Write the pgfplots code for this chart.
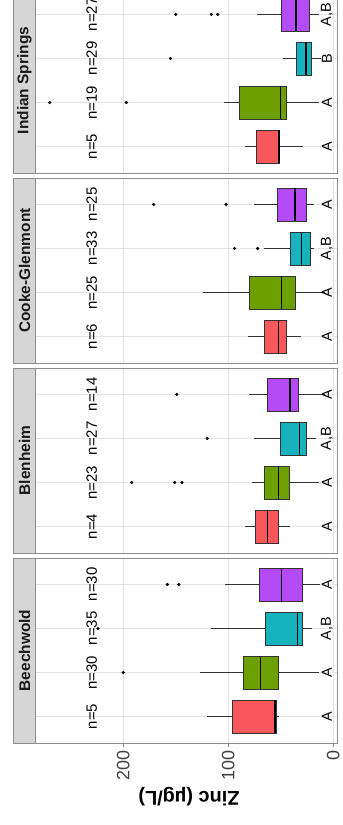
\documentclass[border=0pt]{standalone}
\usepackage{fontspec}
\setmainfont{Liberation Sans}
\usepackage{pgfplots}
\pgfplotsset{compat=1.18}
\usepgfplotslibrary{statistics}
\definecolor{cred}{HTML}{F8575B}
\definecolor{cgreen}{HTML}{6BA000}
\definecolor{ccyan}{HTML}{16B3BE}
\definecolor{cpurple}{HTML}{B54BF4}
\definecolor{gridgray}{HTML}{E4E4E4}
\definecolor{bordergray}{HTML}{8C8C8C}
\definecolor{stripgray}{HTML}{D6D6D6}
\definecolor{boxline}{HTML}{333333}
\newcommand{\bx}[7]{\addplot[fill=#1, draw=boxline, line width=0.7bp, boxplot prepared={draw position=#2, lower whisker=#3, lower quartile=#4, median=#5, upper quartile=#6, upper whisker=#7}] coordinates {};}
\newcommand{\lab}[3]{\node[rotate=90, font=\fontsize{15}{15}\selectfont] at (axis cs:230,#1) {#2};\node[rotate=90, font=\fontsize{14.5}{14.5}\selectfont] at (axis cs:6,#1) {#3};}
\pgfplotsset{
  panel/.style={
    scale only axis, width=302.4bp, height=185bp, anchor=south west,
    xmin=-4, xmax=284, ymin=0.4, ymax=4.6, x dir=reverse,
    xtick={0,100,200}, ytick={1,2,3,4}, yticklabels={}, xticklabels={},
    xmajorgrids, ymajorgrids, grid style={color=gridgray, line width=0.6bp},
    axis line style={draw=bordergray, line width=0.8bp},
    xtick style={draw=none}, ytick style={draw=none},
    clip=false,
    boxplot/draw direction=x,
    boxplot/box extend=0.75,
    boxplot/whisker extend=0,
    boxplot/every median/.style={line width=1.4bp, draw=black},
  },
  outl/.style={only marks, mark=*, mark size=1.4bp, black},
}
\begin{document}
\begin{tikzpicture}
\useasboundingbox (0bp,0bp) rectangle (343bp,825bp);
\clip (0bp,0bp) rectangle (343bp,825bp);
% Beechwold
\begin{axis}[panel, at={(35bp,82bp)},
  xticklabels={0,100,200}, xtick style={draw=bordergray, line width=0.8bp},
  xtick align=outside, major tick length=4bp, xtick pos=left,
  xticklabel style={rotate=90, anchor=east, font=\fontsize{18}{18}\selectfont, text=black!75}]
\bx{cred}{1}{52}{54}{55.5}{96}{120}
\bx{cgreen}{2}{14}{52}{69}{86}{127}
\bx{ccyan}{3}{20}{29}{34}{65}{116}
\bx{cpurple}{4}{13}{29}{49}{70}{103}
\addplot[outl] coordinates {(200,2) (224,3) (158,4) (147,4)};
\lab{1}{n=5}{A}\lab{2}{n=30}{A}\lab{3}{n=35}{A,B}\lab{4}{n=30}{A}
\end{axis}
% Blenheim
\begin{axis}[panel, at={(35bp,272bp)}]
\bx{cred}{1}{41}{52}{62.5}{74}{84}
\bx{cgreen}{2}{14}{42}{52}{66}{77}
\bx{ccyan}{3}{16}{26}{32}{50}{75}
\bx{cpurple}{4}{8}{33}{41}{63}{80}
\addplot[outl] coordinates {(192,2) (151,2) (144,2) (120,3) (149,4)};
\lab{1}{n=4}{A}\lab{2}{n=23}{A}\lab{3}{n=27}{A,B}\lab{4}{n=14}{A}
\end{axis}
% Cooke-Glenmont
\begin{axis}[panel, at={(35bp,462bp)}]
\bx{cred}{1}{31}{45}{52}{66}{81}
\bx{cgreen}{2}{8}{36.5}{49}{80}{124}
\bx{ccyan}{3}{18}{22}{30}{41}{66}
\bx{cpurple}{4}{18}{26}{36.5}{53}{75.5}
\addplot[outl] coordinates {(94,3) (72,3) (171,4) (102,4)};
\lab{1}{n=6}{A}\lab{2}{n=25}{A}\lab{3}{n=33}{A,B}\lab{4}{n=25}{A}
\end{axis}
% Indian Springs
\begin{axis}[panel, at={(35bp,652bp)}]
\bx{cred}{1}{29}{51}{51.5}{73}{84}
\bx{cgreen}{2}{14}{45}{50}{89}{104}
\bx{ccyan}{3}{12}{21}{26}{35}{48}
\bx{cpurple}{4}{14}{23}{35.5}{49}{73}
\addplot[outl] coordinates {(270,2) (197,2) (155,3) (150,4) (116,4) (110,4)};
\lab{1}{n=5}{A}\lab{2}{n=19}{A}\lab{3}{n=29}{B}\lab{4}{n=27}{A,B}
\end{axis}
% strips
\foreach \y/\t in {82/Beechwold,272/Blenheim,462/Cooke-Glenmont,652/Indian Springs}{
  \draw[fill=stripgray, draw=bordergray, line width=0.8bp] (13bp,\y bp) rectangle (35bp,\y bp+185bp);
  \node[rotate=90, font=\bfseries\fontsize{15.5}{15.5}\selectfont, text=black!90] at (24.5bp,\y bp+92.5bp) {\t};
}
\node[rotate=180, font=\bfseries\fontsize{20}{20}\selectfont] at (189bp,28bp) {Zinc (µg/L)};
\end{tikzpicture}
\end{document}
